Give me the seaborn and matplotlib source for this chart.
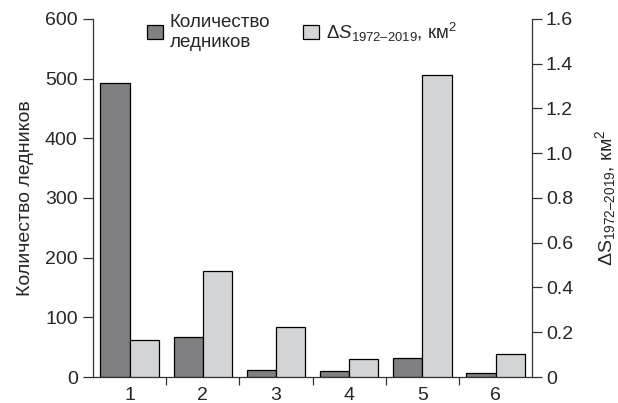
import matplotlib
matplotlib.use("Agg")
import matplotlib.pyplot as plt
import seaborn as sns
import pandas as pd
import numpy as np
from matplotlib.patches import Patch
from matplotlib.ticker import FixedLocator, FuncFormatter

groups = ["1", "2", "3", "4", "5", "6"]
glacier_count = [493, 67, 11, 10, 32, 6]
area_loss = [0.164, 0.474, 0.225, 0.082, 1.348, 0.103]
series_names = ["count", "area"]
count_ticks = [0, 100, 200, 300, 400, 500, 600]
area_ticks = [0, 0.2, 0.4, 0.6, 0.8, 1.0, 1.2, 1.4, 1.6]

dark = "#808083"
light = "#d3d4d6"

sns.set_style("ticks")
plt.rcParams["font.family"] = ["Liberation Sans", "DejaVu Sans"]
plt.rcParams["mathtext.fontset"] = "custom"
plt.rcParams["mathtext.rm"] = "Liberation Sans"
plt.rcParams["mathtext.it"] = "Liberation Sans:italic"
plt.rcParams["mathtext.bf"] = "Liberation Sans:bold"

df_count = pd.DataFrame({"group": groups, "series": "count", "value": glacier_count})
df_area = pd.DataFrame({"group": groups, "series": "area", "value": area_loss})

fig = plt.figure(figsize=(6.18, 4.03), dpi=100)
ax = fig.add_axes([0.1505, 0.0645, 0.7105, 0.8885])
ax2 = ax.twinx()

pal = {"count": dark, "area": light}
sns.barplot(data=df_count, x="group", y="value", hue="series", hue_order=series_names,
            palette=pal, order=groups, width=0.8, dodge=True, edgecolor="black", linewidth=0.9,
            ax=ax, legend=False, saturation=1)
sns.barplot(data=df_area, x="group", y="value", hue="series", hue_order=series_names,
            palette=pal, order=groups, width=0.8, dodge=True, edgecolor="black", linewidth=0.9,
            ax=ax2, legend=False, saturation=1)

ax.set_xlim(-0.5, 5.5)
ax.set_ylim(0, 600)
ax2.set_ylim(0, 1.6)
ax.set_yticks(count_ticks)
ax2.set_yticks(area_ticks)
ax2.yaxis.set_major_formatter(FuncFormatter(lambda v, p: "0" if v == 0 else f"{v:.1f}"))

dash = "\u2013"
ax.set_xlabel("")
ax.set_ylabel("Количество ледников", fontsize=14, labelpad=8)
ax2.set_ylabel("ΔS$_{1972" + dash + "2019}$, км$^2$", fontsize=14, labelpad=14)

ax.xaxis.set_minor_locator(FixedLocator([0.5, 1.5, 2.5, 3.5, 4.5]))
ax.tick_params(axis="x", which="major", length=0, pad=7, labelsize=14)
ax.tick_params(axis="x", which="minor", length=6, width=0.9, color="#333333", direction="out")
ax.tick_params(axis="y", length=7, width=0.9, color="#333333", labelsize=14, pad=4)
ax2.tick_params(axis="y", length=7, width=0.9, color="#333333", labelsize=14, pad=3)

for a in (ax, ax2):
    a.spines["top"].set_visible(False)
    for s in ("left", "right", "bottom"):
        a.spines[s].set_color("#333333")
        a.spines[s].set_linewidth(0.9)
ax.spines["right"].set_visible(False)
ax2.spines["left"].set_visible(False)
ax2.spines["bottom"].set_visible(False)

handles = [Patch(facecolor=dark, edgecolor="black", linewidth=0.9),
           Patch(facecolor=light, edgecolor="black", linewidth=0.9)]
labels = ["Количество\nледников", "Δ$\\mathit{S}_{1972" + dash + "2019}$, км$^2$"]
fig.legend(handles, labels, ncol=2, frameon=False, fontsize=13.5,
           loc="center left", bbox_to_anchor=(0.238, 0.92), borderpad=0, borderaxespad=0,
           handlelength=0.85, handleheight=0.75, handletextpad=0.37, columnspacing=1.76)

fig.savefig("out.png", dpi=100)
